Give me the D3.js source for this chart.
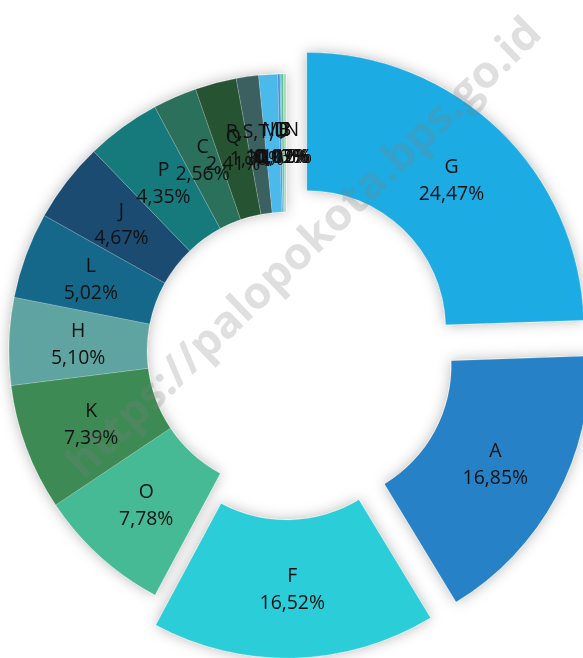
<!DOCTYPE html>
<html>
<head>
<meta charset="utf-8">
<script src="https://cdn.jsdelivr.net/npm/d3@7"></script>
<style>
body { margin: 0; background: #fff; }
svg { display: block; }
</style>
</head>
<body>
<div id="chart"></div>
<script>
// share per category (percent)
var categories = ["G", "A", "F", "O", "K", "H", "L", "J", "P", "C", "Q", "R,S,T,U", "I", "M,N", "D", "E", "B"];
var values = [24.47, 16.85, 16.52, 7.78, 7.39, 5.10, 5.02, 4.67, 4.35, 2.56, 2.41, 1.30, 1.10, 0.13, 0.07, 0.12, 0.16];
var colors = ["#1eabe3", "#2681c6", "#29cdd8", "#44ba94", "#3d8a55", "#5fa4a0", "#13678a", "#1b4c71",
  "#187a7c", "#2b6f5a", "#265331", "#3b615f", "#4bb9e9", "#4d8ad6", "#5cc3e2", "#58bf8c", "#a6dcbc"];
var exploded = ["G", "A", "F"];
var watermark = "https://palopokota.bps.go.id";

var width = 583, height = 658;
var cx = 286, cy = 351;
var outerR = 277, innerR = 139, offset = 30;

var data = categories.map(function(c, i){
  return {name: c, value: values[i]};
});

var svg = d3.select("#chart").append("svg")
  .attr("width", width)
  .attr("height", height);

var defs = svg.append("defs");
var f = defs.append("filter")
  .attr("id", "shadow")
  .attr("x", "-20%").attr("y", "-20%")
  .attr("width", "140%").attr("height", "140%");
f.append("feDropShadow")
  .attr("dx", 0).attr("dy", 0)
  .attr("stdDeviation", 7)
  .attr("flood-color", "#000")
  .attr("flood-opacity", 0.28);

var color = d3.scaleOrdinal().domain(categories).range(colors);

var pie = d3.pie().sort(null).value(function(d){ return d.value; });
var arc = d3.arc().innerRadius(innerR).outerRadius(outerR);
var labelArc = d3.arc().innerRadius((innerR + outerR) / 2).outerRadius((innerR + outerR) / 2);

var arcs = pie(data);

function shift(d){
  if (exploded.indexOf(d.data.name) < 0) return [0, 0];
  var a = (d.startAngle + d.endAngle) / 2;
  return [offset * Math.sin(a), -offset * Math.cos(a)];
}

var g = svg.append("g")
  .attr("transform", "translate(" + cx + "," + cy + ")");

g.append("g")
  .attr("filter", "url(#shadow)")
  .selectAll("path")
  .data(arcs)
  .enter()
  .append("path")
  .attr("d", arc)
  .attr("transform", function(d){ var s = shift(d); return "translate(" + s[0] + "," + s[1] + ")"; })
  .style("fill", function(d){ return color(d.data.name); })
  .style("stroke", "rgba(255,255,255,0.35)")
  .style("stroke-width", "0.5px");

var fmt = function(v){ return v.toFixed(2).replace(".", ",") + "%"; };

var labels = g.append("g")
  .selectAll("text")
  .data(arcs)
  .enter()
  .append("text")
  .attr("transform", function(d){
    var c = labelArc.centroid(d), s = shift(d);
    return "translate(" + (c[0] + s[0]) + "," + (c[1] + s[1]) + ")";
  })
  .attr("text-anchor", "middle")
  .style("font-family", "'Open Sans', sans-serif")
  .style("font-size", "19.4px")
  .style("fill", "#111");

labels.append("tspan")
  .attr("x", 0)
  .attr("y", -7)
  .text(function(d){ return d.data.name; });

labels.append("tspan")
  .attr("x", 0)
  .attr("y", 20)
  .text(function(d){ return fmt(d.data.value); });

// watermark
svg.append("text")
  .attr("transform", "translate(303,247) rotate(-44)")
  .attr("text-anchor", "middle")
  .attr("dy", "0.35em")
  .attr("textLength", 640)
  .attr("lengthAdjust", "spacingAndGlyphs")
  .style("font-family", "'Open Sans', sans-serif")
  .style("font-weight", "bold")
  .style("font-size", "44px")
  .style("fill", "#808080")
  .style("fill-opacity", 0.25)
  .text(watermark);
</script>
</body>
</html>
